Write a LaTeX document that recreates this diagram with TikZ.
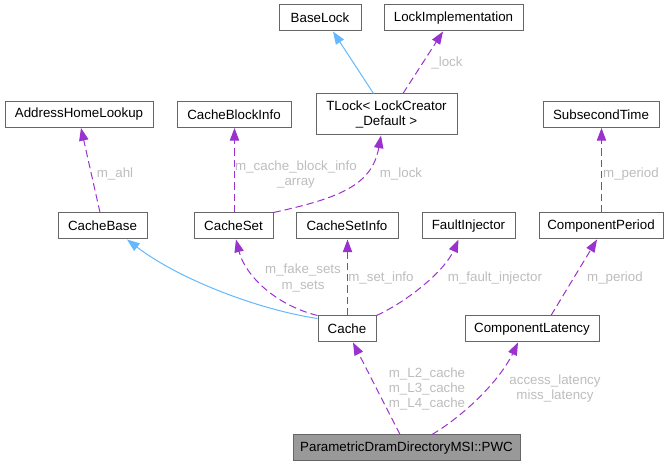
\documentclass[tikz,border=0pt]{standalone}
\usepackage{fontspec}
\setsansfont{Liberation Sans}
\usetikzlibrary{arrows.meta, calc}

\definecolor{frame}{HTML}{666666}
\definecolor{focus}{HTML}{999999}
\definecolor{usecol}{HTML}{9A32CD}
\definecolor{inhcol}{HTML}{63B8FF}
\definecolor{lblcol}{HTML}{BDBDBD}

\tikzset{
  font=\sffamily\fontsize{10}{11.3}\selectfont,
  >={Triangle[length=9.5pt, width=7pt]},
  %
  cls/.style={
    draw=frame, line width=0.75pt, fill=white, align=center, text=black,
    inner xsep=3pt, inner ysep=2pt, minimum height=19.5pt,
  },
  clsfocus/.style={cls, fill=focus},
  %
  usage/.style={draw=usecol, line width=0.75pt, dash pattern=on 5.5pt off 3pt,
                ->, >={Triangle[length=9.5pt, width=7pt, fill=usecol]}},
  inherit/.style={draw=inhcol, line width=0.75pt,
                ->, >={Triangle[length=9.5pt, width=7pt, fill=inhcol]}},
  %
  lbl/.style={text=lblcol, align=center, inner sep=1pt},
}

\begin{document}
\begin{tikzpicture}[x=0.75pt, y=-0.75pt]
\useasboundingbox (0,0) rectangle (669,466);

% ----------------------------------------------------------------- top row
\node[cls, minimum width=61.5pt]  (baselock) at (320,18)    {BaseLock};
\node[cls, minimum width=104.25pt] (lockimpl) at (453.5,18) {LockImplementation};

% -------------------------------------------------------------- second row
\node[cls, minimum width=111pt]  (ahl)      at (79,114.5)  {AddressHomeLookup};
\node[cls, minimum width=85.5pt] (cbinfo)   at (234,114.5) {CacheBlockInfo};
\node[cls, minimum width=105.75pt, minimum height=30.75pt]
  (tlock) at (386.5,114.5) {TLock< LockCreator\\\_Default >};
\node[cls, minimum width=87pt]   (subsec)   at (601,114.5) {SubsecondTime};

% --------------------------------------------------------------- third row
\node[cls, minimum width=66.75pt] (cachebase) at (102.5,226) {CacheBase};
\node[cls, minimum width=59.25pt] (cacheset)  at (233.5,226) {CacheSet};
\node[cls, minimum width=76.5pt]  (setinfo)   at (347,226)   {CacheSetInfo};
\node[cls, minimum width=69.75pt] (faultinj)  at (468.5,226) {FaultInjector};
\node[cls, minimum width=93pt]    (period)    at (601,226)   {ComponentPeriod};

% -------------------------------------------------------------- fourth row
\node[cls, minimum width=43.5pt]  (cache)   at (347,329) {Cache};
\node[cls, minimum width=100.5pt] (latency) at (532,329) {ComponentLatency};

% ------------------------------------------------------------------ focus
\node[clsfocus, minimum width=170.25pt] (pwc) at (406.5,448)
  {ParametricDramDirectoryMSI::PWC};

% ----------------------------------------------------------------- edges
\draw[inherit] ($(tlock.north)+(-13,0)$) -- ($(baselock.south)+(13,0)$);
\draw[usage] ($(tlock.north)+(16.5,0)$) -- ($(lockimpl.south)+(-10.5,0)$);
\node[lbl] (l_lock) at (447,63) {\_lock};

\draw[usage] ($(cachebase.north)+(-2.5,0)$) -- ($(ahl.south)+(2,0)$);
\node[lbl] (l_ahl) at (115,174) {m\_ahl};

\draw[usage] ($(cacheset.north)+(1,0)$) -- ($(cbinfo.south)+(0.5,0)$);
\node[lbl] (l_cbi) at (296,175) {m\_cache\_block\_info\\\_array};

\draw[usage] (cacheset.north east) .. controls (340,198) and (372,185) ..
  ($(tlock.south)+(-5.5,0)$);
\node[lbl] (l_mlock) at (401,174) {m\_lock};

\draw[usage] ($(period.north)+(0.5,0)$) -- ($(subsec.south)+(0.5,0)$);
\node[lbl] (l_per1) at (631,174) {m\_period};

\draw[inherit] ($(cache.north west)+(0,3)$) .. controls (260,310) and (180,280) ..
  ($(cachebase.south)+(24.5,0)$);

\draw[usage] (cache.north west) .. controls (275,305) and (245,275) ..
  ($(cacheset.south)+(2.5,0)$);
\node[lbl] (l_sets) at (303,278) {m\_fake\_sets\\m\_sets};

\draw[usage] ($(cache.north)+(0.5,0)$) -- ($(setinfo.south)+(0.5,0)$);
\node[lbl] (l_setinfo) at (381,278) {m\_set\_info};

\draw[usage] (cache.north east) .. controls (410,300) and (445,270) ..
  ($(faultinj.south)+(-10,0)$);
\node[lbl] (l_fault) at (495,278) {m\_fault\_injector};

\draw[usage] ($(latency.north)+(19,0)$) -- ($(period.south)+(-4,0)$);
\node[lbl] (l_per2) at (615,278) {m\_period};

\draw[usage] ($(pwc.north)+(-6.5,0)$) -- ($(cache.south)+(6,0)$);
\node[lbl] (l_caches) at (427,389) {m\_L2\_cache\\m\_L3\_cache\\m\_L4\_cache};

\draw[usage] ($(pwc.north)+(25.5,0)$) .. controls (465,415) and (500,380) ..
  ($(latency.south)+(-14,0)$);
\node[lbl] (l_lat) at (555,389) {access\_latency\\miss\_latency};

\end{tikzpicture}
\end{document}
